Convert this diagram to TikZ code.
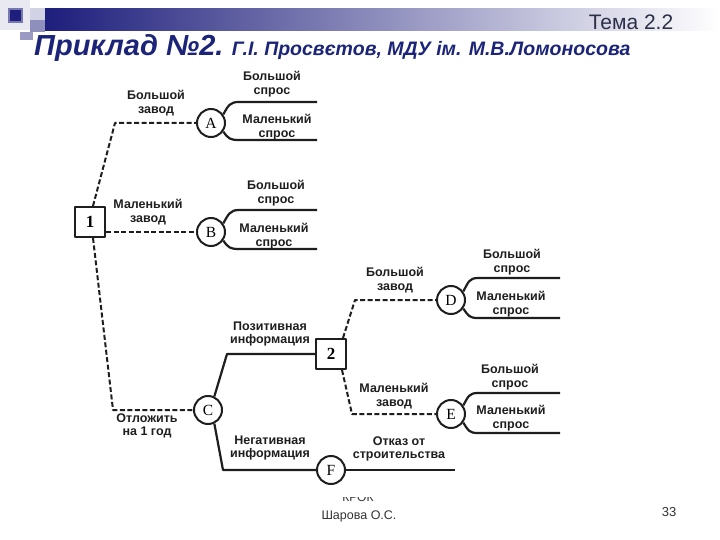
\documentclass[tikz,border=0pt]{standalone}
\usepackage{fontspec}
\setmainfont{Liberation Sans}
\newfontfamily\nodeserif{Liberation Serif}
\usetikzlibrary{shadings}
\definecolor{titleblue}{HTML}{1B2478}
\definecolor{barblue}{HTML}{1E1E7C}
\definecolor{inkgray}{HTML}{1E1E1E}
\definecolor{temagray}{HTML}{2C2F48}

\tikzset{
  chance/.style={circle, draw=inkgray, line width=2pt, minimum size=28pt, inner sep=0pt,
    fill=white, font=\nodeserif\fontsize{15.5}{15.5}\selectfont},
  decision/.style={rectangle, draw=inkgray, line width=2pt, minimum size=30pt, inner sep=0pt,
    fill=white, font=\nodeserif\bfseries\fontsize{17}{17}\selectfont},
  lbl/.style={align=center, inner sep=0pt, text=inkgray,
    font=\bfseries\fontsize{12.5}{13.5}\selectfont},
  choice/.style={draw=inkgray, line width=2pt, dash pattern=on 5pt off 2.5pt},
  branch/.style={draw=inkgray, line width=2.2pt},
}

\begin{document}
\begin{tikzpicture}[x=1pt, y=-1pt, line join=round]
\useasboundingbox (0,0) rectangle (720,540);
\fill[white] (0,0) rectangle (720,540);

% slide header
\fill[barblue!10] (0,0) rectangle (30,30);
\fill[barblue!20] (30,8) rectangle (50,22);
\fill[barblue!50] (30,20) rectangle (45,32);
\fill[barblue!45] (20,32) rectangle (33,40);
\shade[left color=barblue, middle color=barblue!40, right color=white] (45,9) rectangle (720,31);
\fill[barblue!60] (8,8) rectangle (23,23);
\fill[barblue] (10,10) rectangle (21,21);
\node[font=\fontsize{21}{21}\selectfont, text=temagray] (topic) at (631,22) {Тема 2.2};
\node[anchor=base west, inner sep=0pt, text=titleblue,
  font=\bfseries\itshape\fontsize{29}{29}\selectfont] (title) at (34,56) {Приклад №2.};
\node[anchor=base west, inner sep=0pt, text=titleblue,
  font=\bfseries\itshape\fontsize{19.5}{20}\selectfont] (author) at ([xshift=8pt]title.base east)
  {Г.І. Просвєтов, МДУ ім. М.В.Ломоносова};

% decision and chance nodes
\node[decision] (one) at (90,222) {1};
\node[chance] (A) at (211,123) {A};
\node[chance] (B) at (211,232) {B};
\node[chance] (C) at (208,410) {C};
\node[decision] (two) at (331,354) {2};
\node[chance] (D) at (451,300) {D};
\node[chance] (E) at (451,414) {E};
\node[chance] (F) at (331,470) {F};

% corners and free ends
\coordinate (kA) at (115,123);
\coordinate (kC) at (113,410);
\coordinate (kD) at (355,300);
\coordinate (kE) at (352,414);
\coordinate (kP) at (227,354);
\coordinate (kN) at (223,470);
\coordinate (Ahi) at (317,102);
\coordinate (Alo) at (317,140);
\coordinate (Bhi) at (317,210);
\coordinate (Blo) at (317,249);
\coordinate (Dhi) at (560,278);
\coordinate (Dlo) at (560,318);
\coordinate (Ehi) at (560,393);
\coordinate (Elo) at (560,433);
\coordinate (Fend) at (455,470);

% decisions (dashed)
\draw[choice] ([xshift=3pt]one.north) -- (kA) -- (A.west);
\draw[choice] (one.east |- B.west) -- (B.west);
\draw[choice] ([xshift=3pt]one.south) -- (kC) -- (C.west);
\draw[choice] ([xshift=12pt]two.north) -- (kD) -- (D.west);
\draw[choice] ([xshift=11pt]two.south) -- (kE) -- (E.west);

% chance outcomes (solid)
\draw[branch] (C.65) -- (kP) -- (two.west);
\draw[branch] (C.-65) -- (kN) -- (F.west);
\draw[branch] (F.east) -- (Fend);
\draw[branch] (A.35) .. controls +(5,-9) and +(-9,0) .. ([xshift=-78pt]Ahi) -- (Ahi);
\draw[branch] (A.-35) .. controls +(5,7) and +(-9,0) .. ([xshift=-78pt]Alo) -- (Alo);
\draw[branch] (B.35) .. controls +(5,-9) and +(-9,0) .. ([xshift=-78pt]Bhi) -- (Bhi);
\draw[branch] (B.-35) .. controls +(5,7) and +(-9,0) .. ([xshift=-78pt]Blo) -- (Blo);
\draw[branch] (D.35) .. controls +(5,-9) and +(-9,0) .. ([xshift=-82pt]Dhi) -- (Dhi);
\draw[branch] (D.-35) .. controls +(5,7) and +(-9,0) .. ([xshift=-82pt]Dlo) -- (Dlo);
\draw[branch] (E.35) .. controls +(5,-9) and +(-9,0) .. ([xshift=-82pt]Ehi) -- (Ehi);
\draw[branch] (E.-35) .. controls +(5,8) and +(-9,0) .. ([xshift=-82pt]Elo) -- (Elo);

% labels
\node[lbl] (lbigA) at (156,103) {Большой\\завод};
\node[lbl] (lsmallB) at (148,212) {Маленький\\завод};
\node[lbl] (lwait) at (147,426) {Отложить\\на 1 год};
\node[lbl] (lpos) at (270,334) {Позитивная\\информация};
\node[lbl] (lneg) at (270,448) {Негативная\\информация};
\node[lbl] (lstop) at (399,449) {Отказ от\\строительства};
\node[lbl] (lbigD) at (395,280) {Большой\\завод};
\node[lbl] (lsmallE) at (394,396) {Маленький\\завод};
\node[lbl] (dA1) at (272,84) {Большой\\спрос};
\node[lbl] (dA2) at (277,127) {Маленький\\спрос};
\node[lbl] (dB1) at (276,193) {Большой\\спрос};
\node[lbl] (dB2) at (274,236) {Маленький\\спрос};
\node[lbl] (dD1) at (512,262) {Большой\\спрос};
\node[lbl] (dD2) at (511,304) {Маленький\\спрос};
\node[lbl] (dE1) at (510,377) {Большой\\спрос};
\node[lbl] (dE2) at (511,418) {Маленький\\спрос};

% footer
\begin{scope}
\clip (300,497) rectangle (420,508);
\node[font=\fontsize{12}{12}\selectfont, text=black!80] (org) at (358,497) {КРОК};
\end{scope}
\node[font=\fontsize{12.5}{12.5}\selectfont, text=black!80] (sign) at (359,516) {Шарова О.С.};
\node[font=\fontsize{13}{13}\selectfont, text=black!80] (page) at (669,512) {33};
\end{tikzpicture}
\end{document}
